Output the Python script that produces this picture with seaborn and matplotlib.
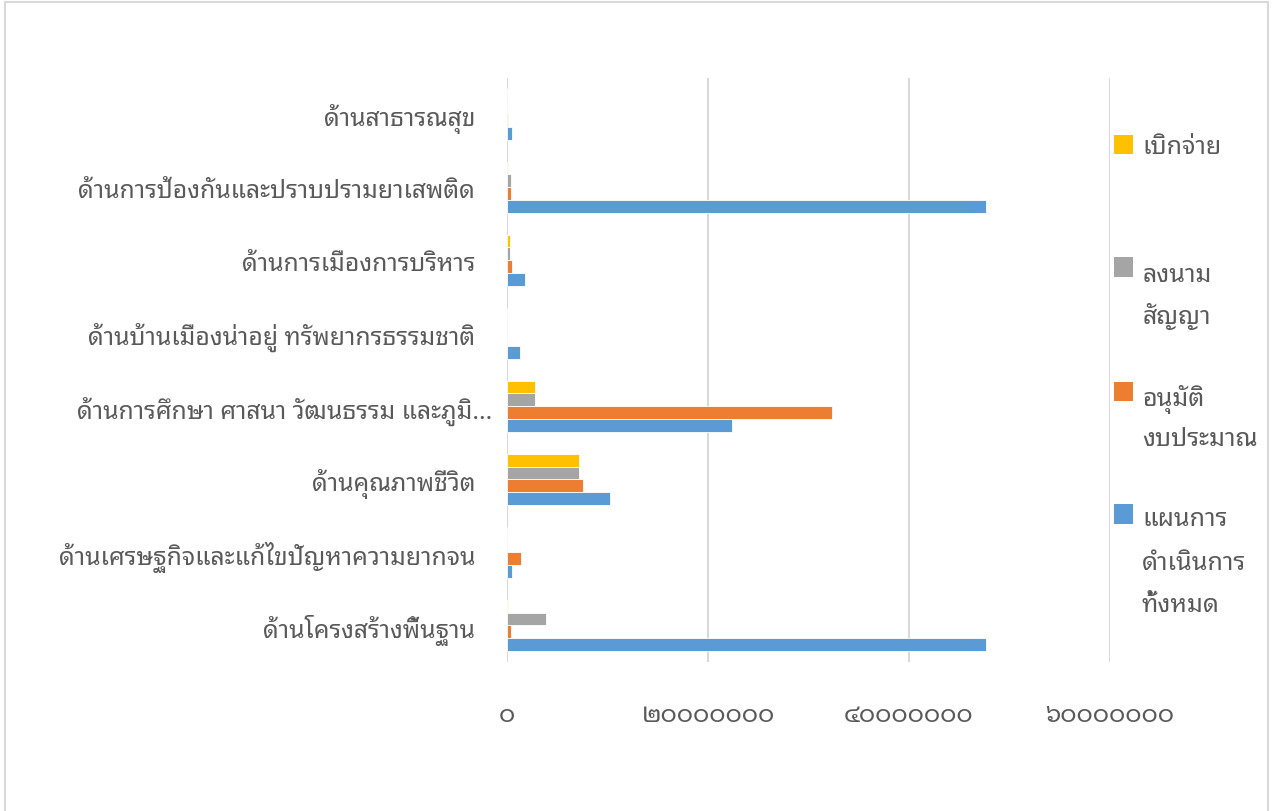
import matplotlib
matplotlib.use("Agg")
import matplotlib.pyplot as plt
import matplotlib.patches as mpatches
from matplotlib.transforms import ScaledTranslation
import pandas as pd
import seaborn as sns

# Data (baht)
categories = [
    "ด้านสาธารณสุข",
    "ด้านการป้องกันและปราบปรามยาเสพติด",
    "ด้านการเมืองการบริหาร",
    "ด้านบ้านเมืองน่าอยู่ ทรัพยากรธรรมชาติ",
    "ด้านการศึกษา ศาสนา วัฒนธรรม และภูมิ...",
    "ด้านคุณภาพชีวิต",
    "ด้านเศรษฐกิจและแก้ไขปัญหาความยากจน",
    "ด้านโครงสร้างพื้นฐาน",
]
disbursed = [0, 50000, 270000, 0, 2790000, 7160000, 0, 50000]
signed = [0, 370000, 250000, 0, 2790000, 7160000, 0, 3880000]
approved = [100000, 400000, 500000, 0, 32300000, 7560000, 1360000, 400000]
planned = [470000, 47660000, 1800000, 1260000, 22400000, 10250000, 470000, 47660000]

series_names = ["เบิกจ่าย", "ลงนามสัญญา", "อนุมัติงบประมาณ", "แผนการดำเนินการทั้งหมด"]
legend_lines = [["เบิกจ่าย"], ["ลงนาม", "สัญญา"], ["อนุมัติ", "งบประมาณ"], ["แผนการ", "ดำเนินการ", "ทั้งหมด"]]
colors = ["#FFC000", "#A5A5A5", "#ED7D31", "#5B9BD5"]
x_ticks = [0, 20000000, 40000000, 60000000]

THAI_DIGITS = str.maketrans("0123456789", "๐๑๒๓๔๕๖๗๘๙")

# Build long-form table
rows = []
for name, values in zip(series_names, [disbursed, signed, approved, planned]):
    for cat, v in zip(categories, values):
        rows.append({"category": cat, "series": name, "value": v})
df = pd.DataFrame(rows)

sns.set_theme(style="white")
plt.rcParams["font.family"] = ["Noto Sans Thai Looped", "DejaVu Sans"]
text_color = "#595959"

W, H = 1274, 812
fig = plt.figure(figsize=(W / 100, H / 100), dpi=100)

def fx(px):
    return px / W

def fy(py):
    return 1 - py / H

ax = fig.add_axes([fx(507), fy(663), fx(1110) - fx(507), fy(78.5) - fy(663)])

sns.barplot(data=df, x="value", y="category", hue="series", order=categories,
            hue_order=series_names, palette=colors, saturation=1, orient="h", width=0.7,
            edgecolor="white", linewidth=0.6, legend=False, ax=ax, errorbar=None)

ax.set_xlim(0, 60000000)
ax.set_xticks(x_ticks)
ax.set_xticklabels([str(t).translate(THAI_DIGITS) for t in x_ticks])
ax.set_xlabel("")
ax.set_ylabel("")
ax.grid(axis="x", color="#D9D9D9", linewidth=1.5)
ax.grid(axis="y", visible=False)
ax.set_axisbelow(True)
for s in ax.spines.values():
    s.set_visible(False)
ax.tick_params(axis="x", length=0, pad=29, labelsize=18, labelcolor=text_color)
ax.tick_params(axis="y", length=0, pad=23, labelsize=17.8, labelcolor=text_color)

# truncated label sits a little closer to the axis in the original
for lab in ax.get_yticklabels():
    if lab.get_text().endswith("..."):
        lab.set_transform(lab.get_transform() + ScaledTranslation(17 / 100, 0, fig.dpi_scale_trans))

# Legend drawn by hand to mimic the wrapped entries
marker_y = [145, 268, 392, 515]
text_y = [[148], [275, 317], [400, 440], [520, 563, 606]]
for color, lines, my, tys in zip(colors, legend_lines, marker_y, text_y):
    fig.patches.append(mpatches.Rectangle((fx(1114), fy(my + 9.5)), fx(19), fy(0) - fy(19),
                                          transform=fig.transFigure, facecolor=color,
                                          edgecolor="none"))
    for line, ty in zip(lines, tys):
        fig.text(fx(1142), fy(ty), line, ha="left", va="center", fontsize=18, color=text_color)

# Outer chart border
fig.patches.append(mpatches.Rectangle((fx(5), fy(830)), fx(1268) - fx(5), fy(3) - fy(830),
                                      transform=fig.transFigure, facecolor="none",
                                      edgecolor="#D9D9D9", linewidth=1.5))

fig.savefig("out.png", dpi=100)
